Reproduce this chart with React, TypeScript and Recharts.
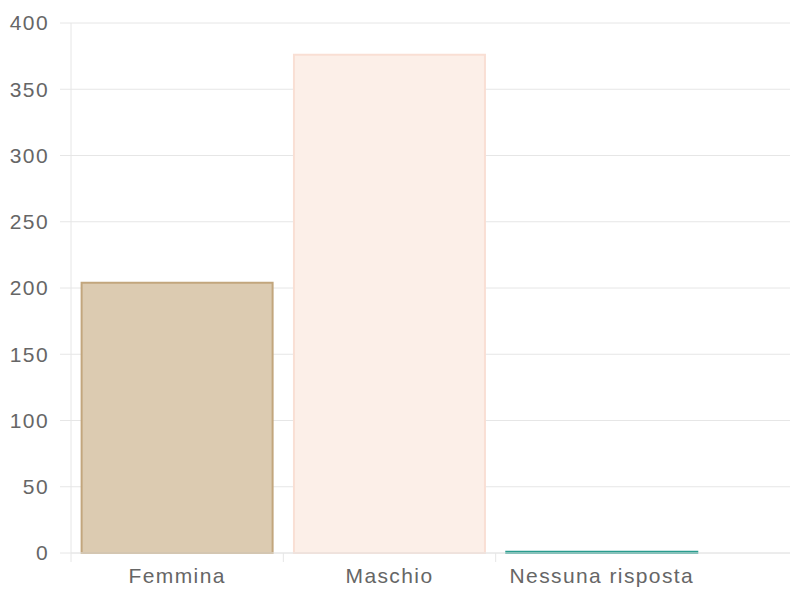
import React from "react";
import { BarChart, Bar, XAxis, YAxis, CartesianGrid, Cell } from "recharts";

const categories = ["Femmina", "Maschio", "Nessuna risposta"];
const counts = [204, 376, 1];
const fills = ["#dccbb1", "#fcefe8", "#5fb8ae"];
const strokes = ["#c2a67d", "#f9dfd4", "#2a9d8f"];
const yTicks = [0, 50, 100, 150, 200, 250, 300, 350, 400];

const data = categories.map((name, i) => ({ name, value: counts[i] }));

const FONT = "'Liberation Sans', Arial, sans-serif";
const GRID = "#e6e6e6";

const XTick = (props: any) => {
  const { x, y, payload } = props;
  const half = payload && payload.offset ? payload.offset : 0;
  return (
    <g>
      <line x1={x - half} x2={x - half} y1={y - 10} y2={y - 1} stroke={GRID} strokeWidth={1} />
      <text
        x={x}
        y={y + 5}
        dy="0.71em"
        textAnchor="middle"
        fill="#666"
        fontSize={21}
        fontFamily={FONT}
        letterSpacing={1.4}
      >
        {payload.value}
      </text>
    </g>
  );
};

export default function App() {
  return (
    <div style={{ position: "absolute", left: 0, top: 0, background: "#fff" }}>
      <BarChart
        width={798}
        height={595}
        data={data}
        margin={{ top: 23, right: 8, bottom: 12, left: 0 }}
        barCategoryGap="5%"
      >
        <CartesianGrid
          stroke={GRID}
          verticalCoordinatesGenerator={(p: any) => {
            const xa = p.xAxis;
            if (xa && typeof xa.scale === "function") {
              return categories.map((c) => xa.scale(c));
            }
            return [];
          }}
        />
        <XAxis
          dataKey="name"
          height={30}
          padding={{ left: 0, right: 82 }}
          axisLine={{ stroke: GRID }}
          tickLine={false}
          tickSize={8}
          tick={<XTick />}
          interval={0}
        />
        <YAxis
          width={71}
          domain={[0, 400]}
          ticks={yTicks}
          axisLine={{ stroke: GRID }}
          tickLine={{ stroke: GRID }}
          tickSize={11}
          tickMargin={11}
          tick={{ fill: "#666", fontSize: 21, fontFamily: FONT, letterSpacing: 1.4 }}
        />
        <Bar dataKey="value" isAnimationActive={false} strokeWidth={2}>
          {data.map((d, i) => (
            <Cell key={d.name} fill={fills[i]} stroke={strokes[i]} />
          ))}
        </Bar>
      </BarChart>
    </div>
  );
}
